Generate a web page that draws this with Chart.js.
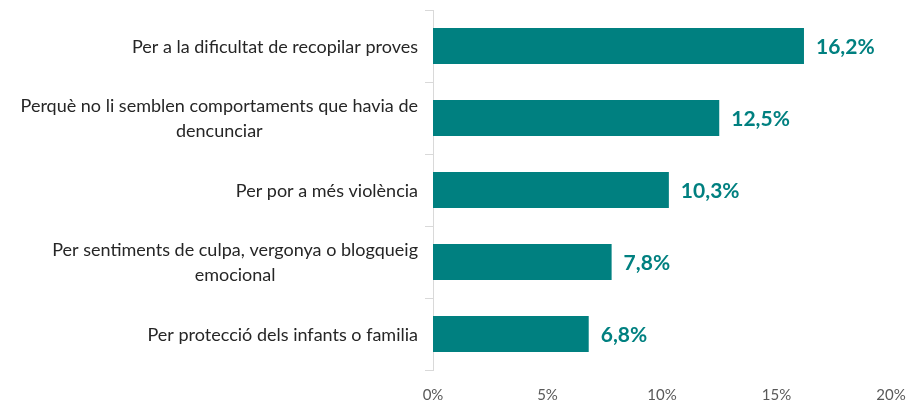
<!DOCTYPE html>
<html>
<head>
<meta charset="utf-8">
<script src="https://cdn.jsdelivr.net/npm/chart.js@4"></script>
<style>
  html, body { margin: 0; padding: 0; background: #fff; }
  #wrap { width: 909px; height: 403px; }
</style>
</head>
<body>
<div id="wrap"><canvas id="motius"></canvas></div>
<script>
const categories = [
  "Per a la dificultat de recopilar proves",
  ["Perquè no li semblen comportaments que havia de", "dencunciar"],
  "Per por a més violència",
  ["Per sentiments de culpa, vergonya o blogqueig", "emocional"],
  "Per protecció dels infants o familia"
];
const percentages = [16.2, 12.5, 10.3, 7.8, 6.8];
const xTicks = [0, 5, 10, 15, 20];

const teal = "#008080";

// value labels to the right of each bar, comma decimal
const valueLabels = {
  id: "valueLabels",
  afterDatasetsDraw(chart) {
    const ctx = chart.ctx;
    const meta = chart.getDatasetMeta(0);
    ctx.save();
    ctx.font = "bold 21px Lato";
    ctx.fillStyle = teal;
    ctx.textBaseline = "middle";
    meta.data.forEach(function (bar, i) {
      const txt = percentages[i].toFixed(1).replace(".", ",") + "%";
      ctx.fillText(txt, bar.x + 12, bar.y + 1);
    });
    ctx.restore();
  }
};

// category labels: each block right aligned to the axis, lines centred inside the block
const categoryLabels = {
  id: "categoryLabels",
  afterDraw(chart) {
    const ctx = chart.ctx;
    const yScale = chart.scales.y;
    const right = yScale.right - 15;
    const lineH = 25;
    ctx.save();
    ctx.font = "18px Lato";
    ctx.fillStyle = "#262626";
    ctx.textBaseline = "middle";
    ctx.textAlign = "center";
    categories.forEach(function (label, i) {
      const lines = Array.isArray(label) ? label : [label];
      const w = Math.max.apply(null, lines.map(l => ctx.measureText(l).width));
      const cx = right - w / 2;
      const cy = yScale.getPixelForValue(i) + 1;
      const y0 = cy - (lines.length - 1) * lineH / 2;
      lines.forEach(function (l, j) {
        ctx.fillText(l, cx, y0 + j * lineH);
      });
    });
    ctx.restore();
  }
};

const myChart = new Chart(document.getElementById("motius"), {
  type: "bar",
  data: {
    labels: categories,
    datasets: [{
      data: percentages,
      backgroundColor: teal,
      borderWidth: 0,
      categoryPercentage: 0.5,
      barPercentage: 1.0
    }]
  },
  options: {
    indexAxis: "y",
    responsive: true,
    maintainAspectRatio: false,
    animation: false,
    layout: { padding: { top: 10, right: 18, left: 0, bottom: 0 } },
    plugins: {
      legend: { display: false },
      tooltip: { enabled: false }
    },
    scales: {
      x: {
        min: 0,
        max: 20,
        afterBuildTicks(axis) {
          axis.ticks = xTicks.map(v => ({ value: v }));
        },
        grid: { display: false },
        border: { display: false },
        ticks: {
          color: "#595959",
          font: { family: "Lato", size: 15 },
          padding: 8,
          maxRotation: 0,
          callback: v => v + "%"
        },
        afterFit(axis) {
          axis.height = 33;
          axis.paddingLeft = 0;
          axis.paddingRight = 0;
        }
      },
      y: {
        grid: {
          offset: true,
          drawOnChartArea: false,
          drawTicks: true,
          tickLength: 8,
          color: "#d9d9d9"
        },
        border: { display: true, color: "#d9d9d9" },
        ticks: { display: false },
        afterFit(axis) {
          axis.width = 433;
          axis.paddingTop = 0;
          axis.paddingBottom = 0;
        }
      }
    }
  },
  plugins: [valueLabels, categoryLabels]
});
</script>
</body>
</html>
